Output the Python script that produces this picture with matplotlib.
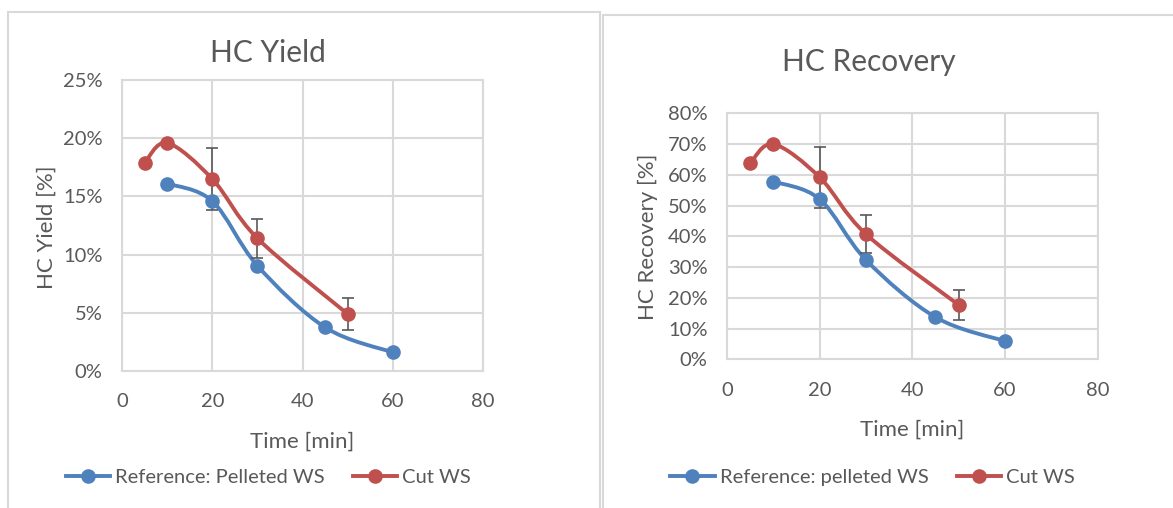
import numpy as np
import matplotlib.pyplot as plt
from matplotlib.path import Path
from matplotlib.patches import PathPatch, Rectangle
from matplotlib.lines import Line2D

plt.rcParams['font.family'] = ['Lato', 'DejaVu Sans']

# data
t_ref = [10, 20, 30, 45, 60]
t_cut = [5, 10, 20, 30, 50]
yield_ref = [16.1, 14.6, 9.05, 3.75, 1.6]
yield_cut = [17.85, 19.6, 16.5, 11.4, 4.9]
yield_err = [0, 0, 2.7, 1.7, 1.4]
rec_ref = [57.8, 52.1, 32.3, 13.7, 5.9]
rec_cut = [63.7, 70.0, 59.2, 40.7, 17.7]
rec_err = [0, 0, 10.0, 6.1, 4.9]

BLUE = '#4F81BD'
RED = '#C0504D'
GREY = '#595959'
GRID = '#D9D9D9'


def smooth_path(x, y):
    # excel-style smoothed line: cubic bezier through the points
    p = np.column_stack([x, y]).astype(float)
    pts = [p[0]]
    codes = [Path.MOVETO]
    n = len(p)
    for i in range(n - 1):
        p0 = p[i - 1] if i > 0 else p[i]
        p3 = p[i + 2] if i + 2 < n else p[i + 1]
        c1 = p[i] + (p[i + 1] - p0) / 6
        c2 = p[i + 1] - (p3 - p[i]) / 6
        pts += [c1, c2, p[i + 1]]
        codes += [Path.CURVE4] * 3
    return Path(pts, codes)


def panel(ax, ylim, ystep, ref, cut, err, title_xy, title, ylab, ylab_xy, xlab_xy):
    ax.set_xlim(0, 80)
    ax.set_ylim(0, ylim)
    ax.set_xticks(range(0, 81, 20))
    ax.set_yticks(np.arange(0, ylim + 0.01, ystep))
    ax.set_yticklabels([f'{int(v)}%' for v in np.arange(0, ylim + 0.01, ystep)])
    ax.grid(True, color=GRID, lw=1.5)
    ax.set_axisbelow(True)
    for s in ax.spines.values():
        s.set_color(GRID)
        s.set_linewidth(1.5)
    ax.tick_params(length=0, colors=GREY, labelsize=14.5)
    ax.tick_params(axis='y', pad=14)
    ax.tick_params(axis='x', pad=16)

    ax.add_patch(PathPatch(smooth_path(t_ref, ref), fill=False, ec=BLUE, lw=2.8, zorder=3))
    ax.add_patch(PathPatch(smooth_path(t_cut, cut), fill=False, ec=RED, lw=2.8, zorder=3))
    e = np.array(err, dtype=float)
    m = e > 0
    ax.errorbar(np.array(t_cut)[m], np.array(cut)[m], yerr=e[m], fmt='none',
                ecolor=GREY, elinewidth=1.2, capsize=4.5, capthick=1.2, zorder=4)
    ax.plot(t_ref, ref, 'o', color=BLUE, ms=9.5, zorder=5)
    ax.plot(t_cut, cut, 'o', color=RED, ms=9.5, zorder=5)

    fig.text(title_xy[0] / W, 1 - title_xy[1] / H, title, ha='center', va='center',
             fontsize=21.5, color=GREY)
    fig.text(ylab_xy[0] / W, 1 - ylab_xy[1] / H, ylab, ha='center', va='center',
             rotation=90, fontsize=16, color=GREY)
    fig.text(xlab_xy[0] / W, 1 - xlab_xy[1] / H, 'Time [min]', ha='center', va='center',
             fontsize=16, color=GREY)


W, H = 1173, 508
fig = plt.figure(figsize=(W / 100, H / 100), dpi=100)

# chart frames
fig.add_artist(Rectangle((8 / W, -0.1), 592 / W, 1.1 - 12.5 / H, transform=fig.transFigure,
                         fill=False, ec=GRID, lw=1.5))
fig.add_artist(Rectangle((603 / W, -0.1), 600 / W, 1.1 - 15 / H, transform=fig.transFigure,
                         fill=False, ec=GRID, lw=1.5))

ax1 = fig.add_axes([122 / W, 1 - 371 / H, 361 / W, 291 / H])
ax2 = fig.add_axes([727 / W, 1 - 359.3 / H, 370.6 / W, 246 / H])

panel(ax1, 25, 5, yield_ref, yield_cut, yield_err, (268, 53), 'HC Yield',
      'HC Yield [%]', (47, 227), (302, 442))
panel(ax2, 80, 10, rec_ref, rec_cut, rec_err, (869, 62), 'HC Recovery',
      'HC Recovery [%]', (648, 237), (912, 430))


def legend(label, cx):
    h = [Line2D([], [], color=BLUE, lw=2.8, marker='o', ms=9.5),
         Line2D([], [], color=RED, lw=2.8, marker='o', ms=9.5)]
    fig.legend(h, [label, 'Cut WS'], loc='center', bbox_to_anchor=(cx / W, 1 - 477 / H),
               ncol=2, frameon=False, fontsize=14.5, labelcolor=GREY, handlelength=2.2,
               handletextpad=0.25, columnspacing=1.4)


legend('Reference: Pelleted WS', 268.5)
legend('Reference: pelleted WS', 872.5)

fig.savefig('out.png', dpi=100)
